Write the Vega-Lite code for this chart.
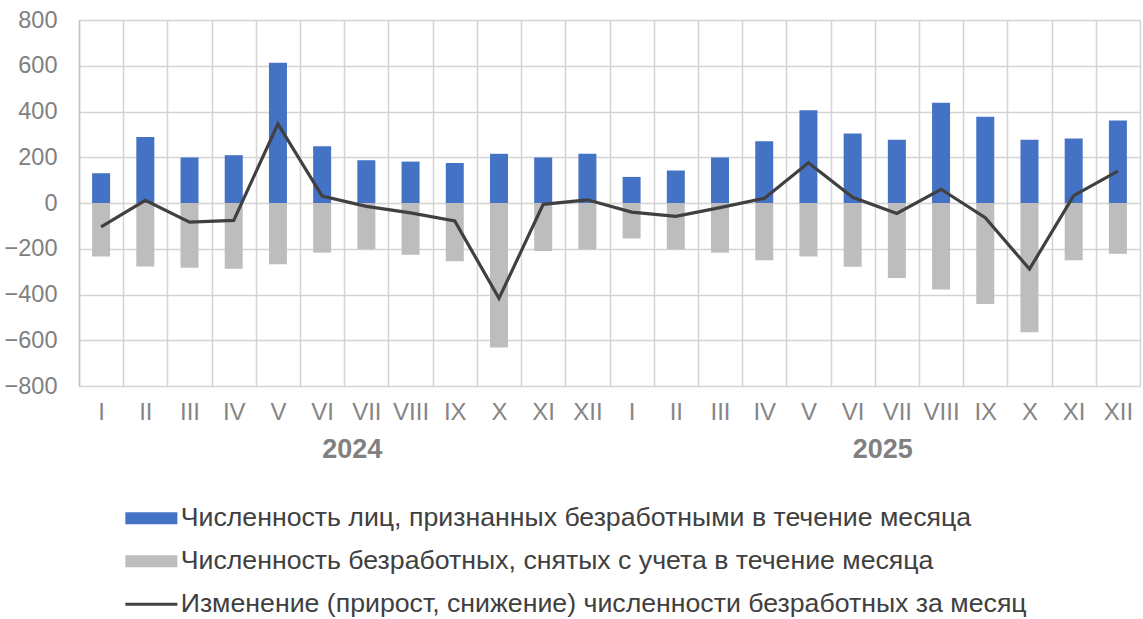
{
  "$schema": "https://vega.github.io/schema/vega-lite/v6.json",
  "width": 1061,
  "height": 366,
  "autosize": {"type": "none"},
  "padding": {"left": 79, "top": 20, "right": 3, "bottom": 233},
  "background": "white",
  "config": {
    "view": {"stroke": null},
    "font": "Liberation Sans"
  },
  "layer": [
    {
      "data": {
        "values": [
          {"ym": "2024 I", "series": "a", "value": 130}, {"ym": "2024 I", "series": "b", "value": -234}, {"ym": "2024 I", "series": "c", "value": -104},
          {"ym": "2024 II", "series": "a", "value": 288}, {"ym": "2024 II", "series": "b", "value": -278}, {"ym": "2024 II", "series": "c", "value": 12},
          {"ym": "2024 III", "series": "a", "value": 199}, {"ym": "2024 III", "series": "b", "value": -283}, {"ym": "2024 III", "series": "c", "value": -84},
          {"ym": "2024 IV", "series": "a", "value": 209}, {"ym": "2024 IV", "series": "b", "value": -287}, {"ym": "2024 IV", "series": "c", "value": -76},
          {"ym": "2024 V", "series": "a", "value": 613}, {"ym": "2024 V", "series": "b", "value": -268}, {"ym": "2024 V", "series": "c", "value": 346},
          {"ym": "2024 VI", "series": "a", "value": 248}, {"ym": "2024 VI", "series": "b", "value": -217}, {"ym": "2024 VI", "series": "c", "value": 30},
          {"ym": "2024 VII", "series": "a", "value": 187}, {"ym": "2024 VII", "series": "b", "value": -202}, {"ym": "2024 VII", "series": "c", "value": -15},
          {"ym": "2024 VIII", "series": "a", "value": 181}, {"ym": "2024 VIII", "series": "b", "value": -226}, {"ym": "2024 VIII", "series": "c", "value": -43},
          {"ym": "2024 IX", "series": "a", "value": 175}, {"ym": "2024 IX", "series": "b", "value": -255}, {"ym": "2024 IX", "series": "c", "value": -78},
          {"ym": "2024 X", "series": "a", "value": 215}, {"ym": "2024 X", "series": "b", "value": -632}, {"ym": "2024 X", "series": "c", "value": -417},
          {"ym": "2024 XI", "series": "a", "value": 199}, {"ym": "2024 XI", "series": "b", "value": -210}, {"ym": "2024 XI", "series": "c", "value": -6},
          {"ym": "2024 XII", "series": "a", "value": 215}, {"ym": "2024 XII", "series": "b", "value": -203}, {"ym": "2024 XII", "series": "c", "value": 14},
          {"ym": "2025 I", "series": "a", "value": 114}, {"ym": "2025 I", "series": "b", "value": -155}, {"ym": "2025 I", "series": "c", "value": -40},
          {"ym": "2025 II", "series": "a", "value": 142}, {"ym": "2025 II", "series": "b", "value": -203}, {"ym": "2025 II", "series": "c", "value": -58},
          {"ym": "2025 III", "series": "a", "value": 199}, {"ym": "2025 III", "series": "b", "value": -217}, {"ym": "2025 III", "series": "c", "value": -20},
          {"ym": "2025 IV", "series": "a", "value": 270}, {"ym": "2025 IV", "series": "b", "value": -250}, {"ym": "2025 IV", "series": "c", "value": 20},
          {"ym": "2025 V", "series": "a", "value": 406}, {"ym": "2025 V", "series": "b", "value": -234}, {"ym": "2025 V", "series": "c", "value": 176},
          {"ym": "2025 VI", "series": "a", "value": 304}, {"ym": "2025 VI", "series": "b", "value": -279}, {"ym": "2025 VI", "series": "c", "value": 25},
          {"ym": "2025 VII", "series": "a", "value": 276}, {"ym": "2025 VII", "series": "b", "value": -328}, {"ym": "2025 VII", "series": "c", "value": -46},
          {"ym": "2025 VIII", "series": "a", "value": 438}, {"ym": "2025 VIII", "series": "b", "value": -378}, {"ym": "2025 VIII", "series": "c", "value": 60},
          {"ym": "2025 IX", "series": "a", "value": 377}, {"ym": "2025 IX", "series": "b", "value": -441}, {"ym": "2025 IX", "series": "c", "value": -64},
          {"ym": "2025 X", "series": "a", "value": 276}, {"ym": "2025 X", "series": "b", "value": -565}, {"ym": "2025 X", "series": "c", "value": -289},
          {"ym": "2025 XI", "series": "a", "value": 282}, {"ym": "2025 XI", "series": "b", "value": -250}, {"ym": "2025 XI", "series": "c", "value": 32},
          {"ym": "2025 XII", "series": "a", "value": 361}, {"ym": "2025 XII", "series": "b", "value": -222}, {"ym": "2025 XII", "series": "c", "value": 139}
        ]
      },
      "encoding": {
        "x": {
          "field": "ym",
          "type": "nominal",
          "sort": null,
          "scale": {"paddingInner": 0, "paddingOuter": 0},
          "axis": {
            "title": null,
            "labelExpr": "split(datum.value, ' ')[1]",
            "labelAngle": 0,
            "labelFont": "Liberation Sans",
            "labelFontSize": 24,
            "labelColor": "#858585",
            "labelPadding": 14,
            "ticks": false,
            "domain": false,
            "grid": true,
            "tickBand": "extent",
            "gridColor": "#d4d4d4",
            "gridWidth": 1.5
          }
        },
        "y": {
          "field": "value",
          "type": "quantitative",
          "stack": null,
          "scale": {"domain": [-800, 800], "nice": false},
          "axis": {
            "title": null,
            "values": [-800, -600, -400, -200, 0, 200, 400, 600, 800],
            "labelFont": "Liberation Sans",
            "labelFontSize": 23.5,
            "labelColor": "#808080",
            "labelPadding": 22,
            "ticks": false,
            "domain": true,
            "domainColor": "#c4c4c4",
            "domainWidth": 1.5,
            "grid": true,
            "gridColor": "#d4d4d4",
            "gridWidth": 1.5
          }
        },
        "color": {
          "field": "series",
          "type": "nominal",
          "scale": {"domain": ["a", "b", "c"], "range": ["#4472C4", "#BDBDBD", "#404040"]},
          "legend": {
            "orient": "none",
            "legendX": 59,
            "legendY": 485,
            "direction": "vertical",
            "title": null,
            "padding": 0,
            "labelExpr": "datum.value == 'a' ? 'Численность лиц, признанных  безработными  в течение месяца' : datum.value == 'b' ? 'Численность безработных, снятых с учета в течение месяца' : 'Изменение (прирост, снижение) численности безработных за месяц'",
            "labelFont": "Liberation Sans",
            "labelFontSize": 26.7,
            "labelColor": "#404040",
            "labelLimit": 0,
            "labelOffset": 16,
            "symbolSize": 1600,
            "rowPadding": 15,
            "encode": {
              "symbols": {
                "update": {
                  "shape": {"signal": "datum.value == 'c' ? 'M-1.3,0H1.3' : 'M-1.3,-0.3H1.3V0.3H-1.3Z'"},
                  "fill": {"signal": "datum.value == 'c' ? 'transparent' : scale('color', datum.value)"},
                  "stroke": {"signal": "scale('color', datum.value)"},
                  "strokeWidth": {"signal": "datum.value == 'c' ? 3 : 0"},
                  "opacity": {"value": 1}
                }
              }
            }
          }
        }
      },
      "layer": [
        {
          "transform": [{"filter": "datum.series != 'c'"}],
          "mark": {"type": "bar", "size": 18}
        },
        {
          "transform": [{"filter": "datum.series == 'c'"}],
          "mark": {"type": "line", "strokeWidth": 3.2}
        }
      ]
    },
    {
      "data": {"values": [{"year": "2024"}, {"year": "2025"}]},
      "mark": {"type": "tick", "opacity": 0},
      "encoding": {
        "x": {
          "field": "year",
          "type": "nominal",
          "scale": {"paddingInner": 0, "paddingOuter": 0},
          "axis": {
            "orient": "bottom",
            "title": null,
            "labelAngle": 0,
            "labelFont": "Liberation Sans",
            "labelFontSize": 27,
            "labelFontWeight": "bold",
            "labelColor": "#808080",
            "labelPadding": 50,
            "labelOffset": 8,
            "ticks": false,
            "domain": false,
            "grid": false
          }
        }
      }
    }
  ],
  "resolve": {"scale": {"x": "independent"}, "axis": {"x": "independent"}}
}
